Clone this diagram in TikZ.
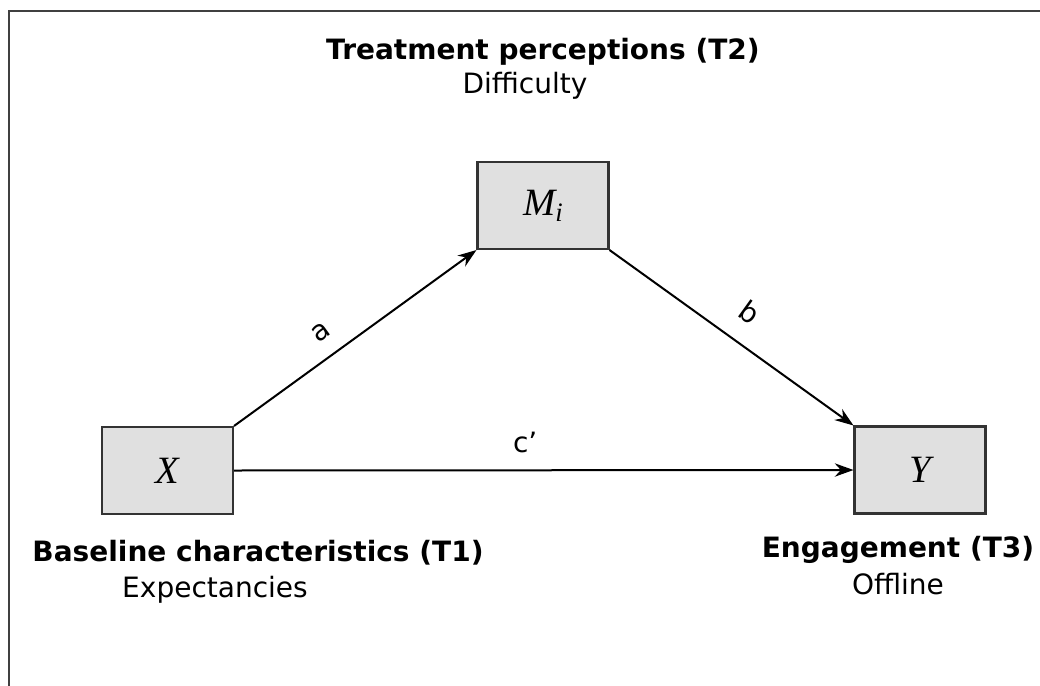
\documentclass[tikz,border=0pt]{standalone}
\usepackage{fontspec}
\setmainfont{DejaVu Sans}
\newfontfamily\mathserif{Liberation Serif}
\usetikzlibrary{arrows.meta}
\begin{document}
\begin{tikzpicture}[x=0.75pt,y=-0.75pt,
  varbox/.style={draw=black!80,line width=1.8pt,fill=black!12,minimum width=98pt,minimum height=65pt,inner sep=0pt,font=\mathserif\itshape\fontsize{29}{32}\selectfont},
  conn/.style={line width=1.5pt,-{Stealth[length=14pt,width=10pt]}},
  ttl/.style={font=\bfseries\fontsize{21}{24}\selectfont,inner sep=0pt},
  sub/.style={font=\fontsize{21}{24}\selectfont,inner sep=0pt},
  lbl/.style={font=\fontsize{21}{24}\selectfont,inner sep=0pt}]
\useasboundingbox (0,0) rectangle (1040,686);
\begin{scope}
\clip (0,0) rectangle (1040,686);
\draw[line width=1.6pt,black!75] (9,720) -- (9,11) -- (1060,11);
\end{scope}
\node[varbox] (M) at (543,205.5) {M\raisebox{-0.35ex}{\fontsize{20}{21}\selectfont i}};
\node[varbox] (X) at (167.5,470.5) {X};
\node[varbox] (Y) at (920,470) {Y};
\node[ttl] (t2) at (543,52) {Treatment perceptions (T2)};
\node[sub] (t2s) at (525,86) {Difficulty};
\node[ttl] (t1) at (258,553) {Baseline characteristics (T1)};
\node[sub] (t1s) at (215,590) {Expectancies};
\node[ttl] (t3) at (898,550) {Engagement (T3)};
\node[sub] (t3s) at (898,584) {Offline};
\draw[conn] (X.north east) -- node[lbl,pos=0.42,sloped,above=12pt] {a} (M.south west);
\draw[conn] (M.south east) -- node[lbl,pos=0.5,sloped,above=15pt] {b} (Y.north west);
\draw[conn] (X.east) -- node[lbl,pos=0.47,above=12pt] {c\textquoteright} (Y.west);
\end{tikzpicture}
\end{document}
